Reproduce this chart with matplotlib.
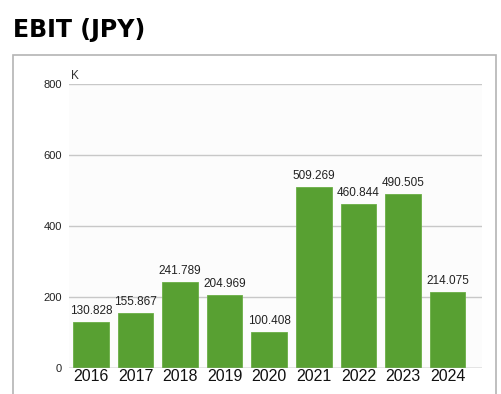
import matplotlib.pyplot as plt
from matplotlib.patches import Rectangle

# EBIT in thousands of JPY
anos = ["2016", "2017", "2018", "2019", "2020", "2021", "2022", "2023", "2024"]
ebit = [130.828, 155.867, 241.789, 204.969, 100.408, 509.269, 460.844, 490.505, 214.075]
rotulos = ["130.828", "155.867", "241.789", "204.969", "100.408",
           "509.269", "460.844", "490.505", "214.075"]
yticks = [0, 200, 400, 600, 800]

VERDE = "#58a032"
FONTE = "Liberation Sans"
W, H = 502, 394

fig = plt.figure(figsize=(W / 100, H / 100), dpi=100)
fig.patch.set_facecolor("white")

# titulo
fig.text(13 / W, 1 - 30 / H, "EBIT (JPY)", fontsize=17, fontweight="bold",
         family="DejaVu Sans", va="center", ha="left", color="black")

# moldura externa
fig.patches.append(Rectangle((13 / W, -0.05), (496 - 13) / W, (H - 55) / H + 0.05,
                             transform=fig.transFigure, fill=False,
                             edgecolor="#b4b4b4", linewidth=1.2))

# area do grafico: x 69..482, y 84..368
ax = fig.add_axes([69 / W, 1 - 368 / H, (482 - 69) / W, (368 - 84) / H])
ax.set_facecolor("#fcfcfc")
for s in ax.spines.values():
    s.set_visible(False)

x = list(range(len(anos)))
ax.bar(x, ebit, width=0.8, color=VERDE, edgecolor="#6aae45", linewidth=0.6, zorder=3)

for xi, v, r in zip(x, ebit, rotulos):
    ax.text(xi, v + 14, r, ha="center", va="bottom", fontsize=8.5,
            family=FONTE, color="#222222", zorder=4)

ax.set_ylim(0, 800)
ax.set_xlim(-0.49, 8.77)
ax.set_yticks(yticks)
ax.set_yticklabels([str(t) for t in yticks], fontsize=8, family=FONTE, color="#222222")
ax.set_xticks(x)
ax.set_xticklabels(anos, fontsize=11.5, family=FONTE, color="#111111")
ax.tick_params(axis="both", length=0)
ax.tick_params(axis="y", pad=5)
ax.tick_params(axis="x", pad=1)

for t in yticks:
    ax.axhline(t, color="#c8c8c8", linewidth=1.0, zorder=1)
ax.axhline(0, color="#b0b0b0", linewidth=1.0, zorder=4)

ax.text(0.005, 805, "K", fontsize=8.5, family=FONTE, color="#333333",
        ha="left", va="bottom", transform=ax.get_yaxis_transform())

plt.savefig("out.png", dpi=100, facecolor="white")
